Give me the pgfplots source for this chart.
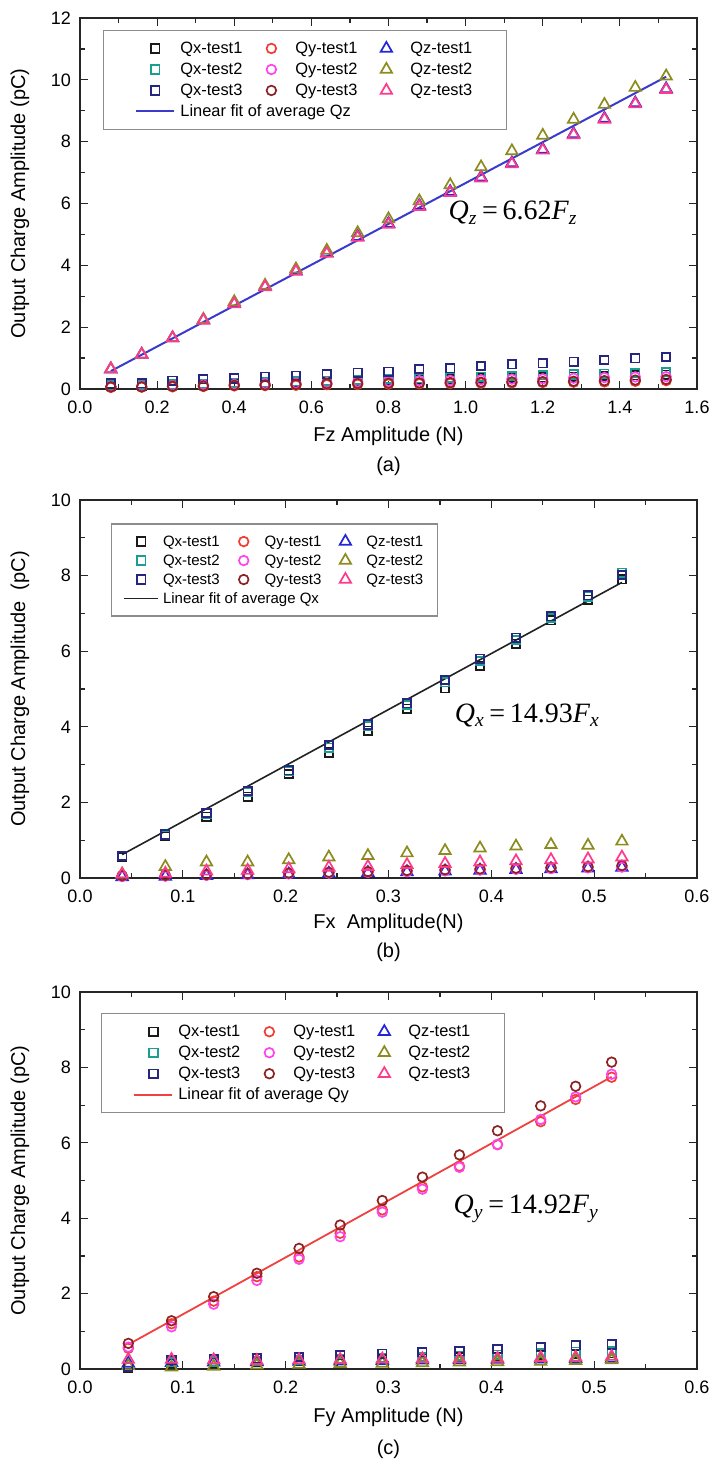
\documentclass[border=0pt]{standalone}
\usepackage{fontspec}
\setmainfont{Liberation Sans}
\newfontfamily\eqfont{Liberation Serif}
\usepackage{pgfplots}
\usepackage{pgfplotstable}
\pgfplotsset{compat=1.18}

\definecolor{cqxA}{HTML}{1A1A1A}
\definecolor{cqxB}{HTML}{1A9E8F}
\definecolor{cqxC}{HTML}{26267F}
\definecolor{cqyA}{HTML}{F03C32}
\definecolor{cqyB}{HTML}{FF44EE}
\definecolor{cqyC}{HTML}{8B2323}
\definecolor{cqzA}{HTML}{2424D8}
\definecolor{cqzB}{HTML}{8C8C1E}
\definecolor{cqzC}{HTML}{FF3A8C}
\definecolor{fitA}{HTML}{3A3ACC}
\definecolor{fitB}{HTML}{222222}
\definecolor{fitC}{HTML}{F04040}

\pgfplotstableread{
x qx1 qx2 qx3 qy1 qy2 qy3 qz1 qz2 qz3
0.08 0.10 0.12 0.18 0.05 0.08 0.07 0.64 0.65 0.65
0.16 0.11 0.13 0.18 0.06 0.09 0.07 1.12 1.12 1.12
0.24 0.13 0.15 0.27 0.07 0.11 0.09 1.65 1.65 1.65
0.32 0.15 0.17 0.31 0.08 0.13 0.10 2.23 2.25 2.22
0.40 0.17 0.20 0.34 0.10 0.15 0.12 2.76 2.82 2.75
0.48 0.19 0.22 0.40 0.11 0.17 0.13 3.31 3.35 3.30
0.56 0.21 0.25 0.43 0.12 0.19 0.15 3.82 3.88 3.80
0.64 0.23 0.27 0.48 0.14 0.21 0.17 4.40 4.48 4.38
0.72 0.25 0.30 0.53 0.15 0.23 0.18 4.93 5.05 4.90
0.80 0.27 0.32 0.56 0.16 0.25 0.19 5.35 5.50 5.32
0.88 0.30 0.35 0.65 0.17 0.27 0.20 5.93 6.08 5.90
0.96 0.32 0.37 0.67 0.18 0.28 0.21 6.38 6.60 6.35
1.04 0.34 0.40 0.74 0.19 0.30 0.22 6.85 7.18 6.82
1.12 0.36 0.42 0.80 0.20 0.32 0.23 7.31 7.70 7.28
1.20 0.38 0.44 0.83 0.21 0.33 0.24 7.75 8.20 7.72
1.28 0.40 0.47 0.88 0.22 0.35 0.25 8.25 8.72 8.22
1.36 0.42 0.50 0.94 0.23 0.37 0.27 8.75 9.20 8.72
1.44 0.44 0.52 0.99 0.25 0.39 0.29 9.25 9.75 9.22
1.52 0.46 0.55 1.04 0.27 0.40 0.31 9.71 10.12 9.68
}\dataA

\pgfplotstableread{
x qx1 qx2 qx3 qy1 qy2 qy3 qz1 qz2 qz3
0.041 0.55 0.58 0.58 0.05 0.04 0.06 0.03 0.10 0.10
0.083 1.10 1.13 1.15 0.06 0.05 0.07 0.04 0.30 0.12
0.123 1.62 1.70 1.72 0.08 0.07 0.09 0.06 0.42 0.18
0.163 2.15 2.27 2.30 0.10 0.09 0.11 0.08 0.42 0.20
0.203 2.75 2.83 2.85 0.12 0.11 0.13 0.10 0.48 0.24
0.242 3.32 3.45 3.52 0.14 0.13 0.15 0.12 0.55 0.28
0.280 3.90 4.02 4.06 0.16 0.15 0.17 0.14 0.59 0.30
0.318 4.48 4.58 4.62 0.18 0.17 0.20 0.16 0.66 0.35
0.355 5.02 5.18 5.24 0.20 0.19 0.22 0.18 0.72 0.38
0.389 5.62 5.74 5.80 0.22 0.21 0.24 0.20 0.79 0.42
0.424 6.20 6.30 6.36 0.24 0.23 0.26 0.22 0.84 0.45
0.458 6.82 6.88 6.92 0.26 0.25 0.28 0.24 0.88 0.48
0.494 7.36 7.44 7.48 0.28 0.27 0.30 0.26 0.86 0.50
0.527 7.90 8.08 8.02 0.30 0.29 0.33 0.28 0.97 0.55
}\dataB

\pgfplotstableread{
x qx1 qx2 qx3 qy1 qy2 qy3 qz1 qz2 qz3
0.047 0.04 0.05 0.06 0.55 0.58 0.68 0.15 0.08 0.25
0.089 0.15 0.18 0.24 1.20 1.12 1.28 0.17 0.05 0.25
0.130 0.17 0.20 0.26 1.80 1.72 1.92 0.18 0.07 0.24
0.172 0.19 0.22 0.28 2.45 2.35 2.54 0.19 0.10 0.22
0.213 0.21 0.24 0.32 2.97 2.91 3.20 0.20 0.12 0.24
0.253 0.23 0.27 0.36 3.60 3.51 3.82 0.21 0.14 0.25
0.294 0.26 0.30 0.41 4.22 4.16 4.47 0.22 0.15 0.26
0.333 0.28 0.32 0.44 4.83 4.77 5.09 0.23 0.16 0.27
0.369 0.31 0.35 0.47 5.38 5.35 5.68 0.24 0.18 0.27
0.406 0.33 0.38 0.52 5.95 5.96 6.32 0.25 0.19 0.28
0.448 0.37 0.42 0.58 6.56 6.62 6.98 0.26 0.20 0.30
0.482 0.40 0.46 0.63 7.15 7.22 7.50 0.27 0.22 0.31
0.517 0.42 0.48 0.65 7.74 7.82 8.14 0.28 0.24 0.33
}\dataC

\pgfplotsset{
  panel/.style={
    scale only axis,
    width=308.5pt,
    xmin=0, ymin=0,
    axis line style={line width=0.7pt, black!85},
    every tick/.style={line width=0.6pt, black!85},
    major tick length=4pt, minor tick length=2.5pt,
    minor x tick num=1, minor y tick num=1,
    tick label style={font=\fontsize{9}{10}\selectfont},
    xticklabel style={yshift=-2.5pt, /pgf/number format/.cd, fixed, fixed zerofill, precision=1, assume math mode=true},
    yticklabel style={xshift=-1pt, /pgf/number format/.cd, fixed, precision=0, assume math mode=true},
    label style={font=\fontsize{10}{12}\selectfont},
    ylabel style={at={(axis description cs:-0.0972,0.5)}, anchor=center, rotate=0},
    ylabel={Output Charge Amplitude (pC)},
    legend columns=3,
    legend cell align=left,
    mark options={solid, line width=0.85pt},
  },
  sq/.style={only marks, mark=square, mark size=2.1pt},
  ci/.style={only marks, mark=o, mark size=2.4pt},
  tr/.style={only marks, mark=triangle, mark size=3.3pt},
  legA/.style={
    legend image code/.code={\path[draw=none,fill=none] (0pt,-3pt) rectangle (19pt,3pt);\draw[mark repeat=2,mark phase=2,##1] plot coordinates {(0pt,0pt) (9.5pt,0pt) (19pt,0pt)};},
    legend style={draw=black!45, line width=0.6pt, fill=white,
      font=\fontsize{8.2}{10}\selectfont, inner xsep=16pt, inner ysep=5pt,
      nodes={inner xsep=1pt, inner ysep=0pt, text height=6.5pt, text depth=1.5pt},
      row sep=2.5pt,
      /tikz/every odd column/.append style={column sep=1.5pt},
      /tikz/every even column/.append style={column sep=4pt}},
  },
  legB/.style={
    legend image code/.code={\path[draw=none,fill=none] (0pt,-3pt) rectangle (17pt,3pt);\draw[mark repeat=2,mark phase=2,##1] plot coordinates {(0pt,0pt) (8.5pt,0pt) (17pt,0pt)};},
    legend style={draw=black!45, line width=0.6pt, fill=white,
      font=\fontsize{7.5}{9}\selectfont, inner xsep=6pt, inner ysep=5pt,
      nodes={inner xsep=1pt, inner ysep=0pt, text height=6pt, text depth=1.5pt},
      row sep=2pt,
      /tikz/every odd column/.append style={column sep=1pt},
      /tikz/every even column/.append style={column sep=2.5pt}},
  },
}

\begin{document}
\begin{tikzpicture}
\useasboundingbox (0pt,0pt) rectangle (360pt,-734.5pt);

% ---------------- (a) ----------------
\begin{axis}[panel, legA, name=A,
  at={(40pt,-194.5pt)}, anchor=south west,
  height=185.5pt,
  xmax=1.6, ymax=12,
  xtick={0,0.2,...,1.6}, ytick={0,2,...,12},
  xlabel={Fz Amplitude (N)},
  xlabel style={at={(axis description cs:0.5,-0.128)}, anchor=center},
  legend style={at={(axis description cs:0.037,0.968)}, anchor=north west},
]
\addplot[sq, cqxA] table[x=x,y=qx1]{\dataA}; \addlegendentry{Qx-test1}
\addplot[ci, cqyA] table[x=x,y=qy1]{\dataA}; \addlegendentry{Qy-test1}
\addplot[tr, cqzA] table[x=x,y=qz1]{\dataA}; \addlegendentry{Qz-test1}
\addplot[sq, cqxB] table[x=x,y=qx2]{\dataA}; \addlegendentry{Qx-test2}
\addplot[ci, cqyB] table[x=x,y=qy2]{\dataA}; \addlegendentry{Qy-test2}
\addplot[tr, cqzB] table[x=x,y=qz2]{\dataA}; \addlegendentry{Qz-test2}
\addplot[sq, cqxC] table[x=x,y=qx3]{\dataA}; \addlegendentry{Qx-test3}
\addplot[ci, cqyC] table[x=x,y=qy3]{\dataA}; \addlegendentry{Qy-test3}
\addplot[tr, cqzC] table[x=x,y=qz3]{\dataA}; \addlegendentry{Qz-test3}
\addplot[fitA, line width=1pt, no marks] coordinates {(0.08,0.58) (1.52,10.1)};
\addlegendentry{\rlap{Linear fit of average Qz}}
\node[font=\eqfont\fontsize{14}{16}\selectfont] at (axis cs:1.123,5.7)
  {\textit{Q}\textsubscript{\textit{z}}\,=\,6.62\textit{F}\textsubscript{\textit{z}}};
\end{axis}
\node[font=\fontsize{10}{12}\selectfont] at ([yshift=-38.5pt]A.south) {(a)};

% ---------------- (b) ----------------
\begin{axis}[panel, legB, name=B,
  at={(40pt,-439pt)}, anchor=south west,
  height=189pt,
  xmax=0.6, ymax=10,
  xtick={0,0.1,...,0.6}, ytick={0,2,...,10},
  xlabel={Fx\ \ Amplitude(N)},
  xlabel style={at={(axis description cs:0.5,-0.12)}, anchor=center},
  ylabel={Output Charge Amplitude\ \ (pC)},
  legend style={at={(axis description cs:0.05,0.938)}, anchor=north west},
]
\addplot[sq, cqxA] table[x=x,y=qx1]{\dataB}; \addlegendentry{Qx-test1}
\addplot[ci, cqyA] table[x=x,y=qy1]{\dataB}; \addlegendentry{Qy-test1}
\addplot[tr, cqzA] table[x=x,y=qz1]{\dataB}; \addlegendentry{Qz-test1}
\addplot[sq, cqxB] table[x=x,y=qx2]{\dataB}; \addlegendentry{Qx-test2}
\addplot[ci, cqyB] table[x=x,y=qy2]{\dataB}; \addlegendentry{Qy-test2}
\addplot[tr, cqzB] table[x=x,y=qz2]{\dataB}; \addlegendentry{Qz-test2}
\addplot[sq, cqxC] table[x=x,y=qx3]{\dataB}; \addlegendentry{Qx-test3}
\addplot[ci, cqyC] table[x=x,y=qy3]{\dataB}; \addlegendentry{Qy-test3}
\addplot[tr, cqzC] table[x=x,y=qz3]{\dataB}; \addlegendentry{Qz-test3}
\addplot[fitB, line width=0.8pt, no marks] coordinates {(0.041,0.62) (0.527,7.82)};
\addlegendentry{\rlap{Linear fit of average Qx}}
\node[font=\eqfont\fontsize{14}{16}\selectfont] at (axis cs:0.435,4.3)
  {\textit{Q}\textsubscript{\textit{x}}\,=\,14.93\textit{F}\textsubscript{\textit{x}}};
\end{axis}
\node[font=\fontsize{10}{12}\selectfont] at ([yshift=-37pt]B.south) {(b)};

% ---------------- (c) ----------------
\begin{axis}[panel, legA, name=C,
  at={(40pt,-684.5pt)}, anchor=south west,
  height=188.5pt,
  xmax=0.6, ymax=10,
  xtick={0,0.1,...,0.6}, ytick={0,2,...,10},
  xlabel={Fy Amplitude (N)},
  xlabel style={at={(axis description cs:0.5,-0.128)}, anchor=center},
  legend style={at={(axis description cs:0.034,0.944)}, anchor=north west},
]
\addplot[sq, cqxA] table[x=x,y=qx1]{\dataC}; \addlegendentry{Qx-test1}
\addplot[ci, cqyA] table[x=x,y=qy1]{\dataC}; \addlegendentry{Qy-test1}
\addplot[tr, cqzA] table[x=x,y=qz1]{\dataC}; \addlegendentry{Qz-test1}
\addplot[sq, cqxB] table[x=x,y=qx2]{\dataC}; \addlegendentry{Qx-test2}
\addplot[ci, cqyB] table[x=x,y=qy2]{\dataC}; \addlegendentry{Qy-test2}
\addplot[tr, cqzB] table[x=x,y=qz2]{\dataC}; \addlegendentry{Qz-test2}
\addplot[sq, cqxC] table[x=x,y=qx3]{\dataC}; \addlegendentry{Qx-test3}
\addplot[ci, cqyC] table[x=x,y=qy3]{\dataC}; \addlegendentry{Qy-test3}
\addplot[tr, cqzC] table[x=x,y=qz3]{\dataC}; \addlegendentry{Qz-test3}
\addplot[fitC, line width=0.9pt, no marks] coordinates {(0.047,0.65) (0.517,7.75)};
\addlegendentry{\rlap{Linear fit of average Qy}}
\node[font=\eqfont\fontsize{14}{16}\selectfont] at (axis cs:0.434,4.25)
  {\textit{Q}\textsubscript{\textit{y}}\,=\,14.92\textit{F}\textsubscript{\textit{y}}};
\end{axis}
\node[font=\fontsize{10}{12}\selectfont] at ([yshift=-40pt]C.south) {(c)};
\end{tikzpicture}
\end{document}
